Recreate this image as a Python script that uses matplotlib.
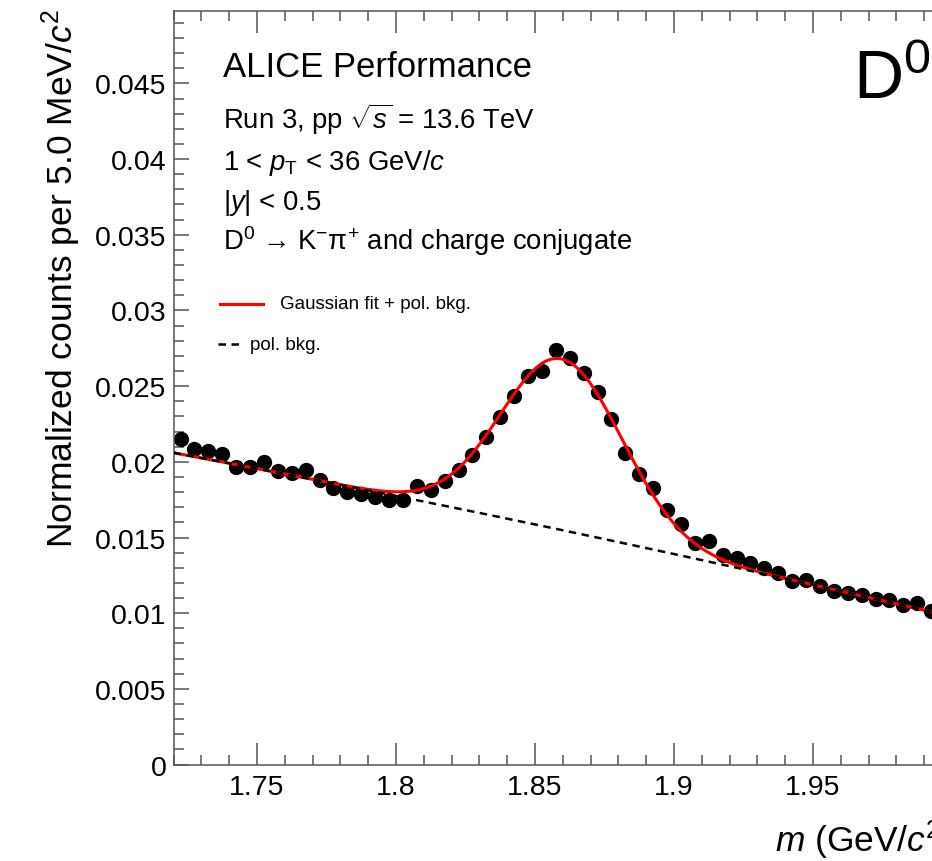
import numpy as np
import matplotlib
matplotlib.use("Agg")
import matplotlib.pyplot as plt
from matplotlib.ticker import MultipleLocator, FuncFormatter
from matplotlib.lines import Line2D

# ---------------------------------------------------------------
# data (normalized counts, 5 MeV bins)
# ---------------------------------------------------------------
bin_lo = 1.72
bin_width = 0.005
counts = [0.02151, 0.02085, 0.02069, 0.02052, 0.01968, 0.01968, 0.02001,
          0.01937, 0.01926, 0.01948, 0.01882, 0.01825, 0.01803, 0.01787,
          0.01765, 0.01750, 0.01746, 0.01840, 0.01816, 0.01875, 0.01946,
          0.02045, 0.02166, 0.02294, 0.02437, 0.02569, 0.02602, 0.02738,
          0.02688, 0.02584, 0.02463, 0.02283, 0.02056, 0.01919, 0.01827,
          0.01684, 0.01589, 0.01464, 0.01476, 0.01384, 0.01365, 0.01330,
          0.01299, 0.01263, 0.01215, 0.01219, 0.01182, 0.01149, 0.01133,
          0.01122, 0.01094, 0.01087, 0.01054, 0.01067, 0.01017]

# fit parameters (gaussian + pol2 background around 1.72)
gaus_amp = 0.0113
gaus_mean = 1.8595
gaus_sigma = 0.0218
bkg_pars = [0.0206, -0.03447, -0.015]

x_range = (1.72, 2.0)
y_range = (0.0, 0.0498)

info_lines = ["Run 3, pp $\\sqrt{s}$ = 13.6 TeV",
              "1 < $p_{\\mathrm{T}}$ < 36 GeV/$c$",
              "|$y$| < 0.5",
              "D$^{0}$ → K$^{-}$π$^{+}$ and charge conjugate"]


def bkg(m):
    d = m - bin_lo
    return bkg_pars[0] + bkg_pars[1] * d + bkg_pars[2] * d ** 2


def total(m):
    return bkg(m) + gaus_amp * np.exp(-0.5 * ((m - gaus_mean) / gaus_sigma) ** 2)


# ---------------------------------------------------------------
# style
# ---------------------------------------------------------------
plt.rcParams["font.family"] = ["Liberation Sans", "DejaVu Sans"]
plt.rcParams["mathtext.fontset"] = "custom"
plt.rcParams["mathtext.rm"] = "Liberation Sans"
plt.rcParams["mathtext.it"] = "Liberation Sans:italic"
plt.rcParams["mathtext.bf"] = "Liberation Sans:bold"

W, H = 932, 862
fig = plt.figure(figsize=(W / 100, H / 100), dpi=100)
# axes run past the right edge on purpose (reference is cropped there)
ax = fig.add_axes([173.6 / W, 96.4 / H, 778.4 / W, 753.9 / H])

centers = bin_lo + bin_width * (np.arange(len(counts)) + 0.5)
ax.plot(centers, counts, "o", color="black", markersize=10, zorder=2)

mm = np.linspace(x_range[0], x_range[1], 600)
ax.plot(mm, total(mm), color="#ff0000", lw=2.2, zorder=3)
ax.plot(mm, bkg(mm), color="black", lw=1.8, linestyle=(0, (3.0, 2.2)), zorder=4)

ax.set_xlim(*x_range)
ax.set_ylim(*y_range)

fmt = FuncFormatter(lambda v, p: "%g" % round(v, 6))
ax.xaxis.set_major_locator(MultipleLocator(0.05))
ax.xaxis.set_minor_locator(MultipleLocator(0.01))
ax.yaxis.set_major_locator(MultipleLocator(0.005))
ax.yaxis.set_minor_locator(MultipleLocator(0.001))
ax.xaxis.set_major_formatter(fmt)
ax.yaxis.set_major_formatter(fmt)

axis_col = "#555555"
for sp in ax.spines.values():
    sp.set_color(axis_col)
    sp.set_linewidth(1.1)
ax.tick_params(which="both", direction="in", top=True, right=True,
               color=axis_col, width=1.1, labelsize=20.5)
ax.tick_params(axis="x", which="major", length=15.5, pad=7)
ax.tick_params(axis="x", which="minor", length=7.5)
ax.tick_params(axis="y", which="major", length=11, pad=5)
ax.tick_params(axis="y", which="minor", length=7.5)

# axis titles (ROOT style: aligned to the axis ends)
fig.text(61 / W, 1 - 9 / H, "Normalized counts per 5.0 MeV/$c^{2}$",
         rotation=90, ha="center", va="top", fontsize=25.5)
ax.text(1.0, -0.115, "$m$ (GeV/$c^{2}$)", transform=ax.transAxes,
        ha="right", va="baseline", fontsize=25.5)

# labels
fig.text(222.7 / W, 1 - 77.3 / H, "ALICE Performance", fontsize=25,
         va="baseline")
for i, txt in enumerate(info_lines):
    fig.text(222.7 / W, 1 - (129 + 40.5 * i) / H, txt, fontsize=19.8,
             va="baseline")
fig.text(853 / W, 1 - 99 / H, "D$^{0}$", fontsize=50, va="baseline")

# legend
fig.lines.append(Line2D([220 / W, 263 / W], [1 - 305 / H, 1 - 305 / H],
                        transform=fig.transFigure, color="#ff0000", lw=2.2))
fig.text(280 / W, 1 - 305 / H, "Gaussian fit + pol. bkg.", fontsize=13.5,
         va="center")
fig.lines.append(Line2D([218 / W, 243 / W], [1 - 345 / H, 1 - 345 / H],
                        transform=fig.transFigure, color="black", lw=1.8,
                        linestyle=(0, (3.0, 2.2))))
fig.text(250 / W, 1 - 345 / H, "pol. bkg.", fontsize=13.5, va="center")

fig.savefig("out.png", dpi=100)
